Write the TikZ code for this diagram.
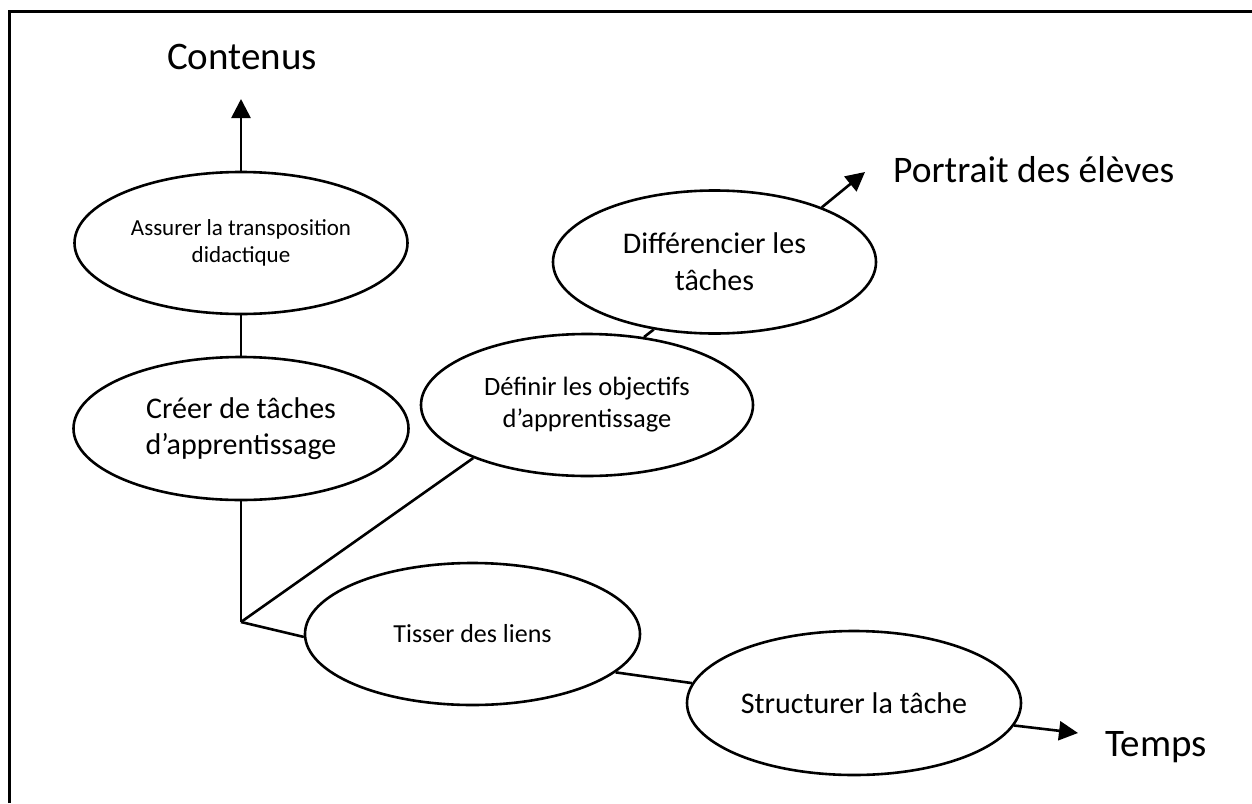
\documentclass[tikz,border=0pt]{standalone}
\usepackage{fontspec}
\setmainfont{Carlito}
\usetikzlibrary{arrows.meta,shapes.geometric}
\begin{document}
\begin{tikzpicture}[x=1pt,y=-1pt,
  bubble/.style={draw, line width=2.6pt, ellipse, inner sep=0pt, align=center},
  link/.style={line width=2.6pt},
  axis/.style={line width=2.6pt, -{Triangle[length=19pt,width=19pt]}},
  axislabel/.style={inner sep=0pt, font=\fontsize{39}{47}\selectfont},
]
\useasboundingbox (0,0) rectangle (1252,803);
% frame
\draw[line width=3pt] (9,803) -- (9,11) -- (1252,11);

% activities
\node[bubble, minimum width=333pt, minimum height=142pt,
      font=\fontsize{23}{27.5}\selectfont] (ass) at (241,243)
      {Assurer la transposition\\didactique};
\node[bubble, minimum width=335pt, minimum height=143pt,
      font=\fontsize{30}{36}\selectfont] (cre) at (241,428.5)
      {Créer de tâches\\d’apprentissage};
\node[bubble, minimum width=332pt, minimum height=142pt,
      font=\fontsize{26.5}{32}\selectfont] (def) at (587,405)
      {Définir les objectifs\\d’apprentissage};
\node[bubble, minimum width=323pt, minimum height=143pt,
      font=\fontsize{30}{37}\selectfont] (dif) at (714.5,262)
      {Différencier les\\tâches};
\node[bubble, minimum width=335pt, minimum height=142pt,
      font=\fontsize{26}{31}\selectfont] (tis) at (472.5,634)
      {Tisser des liens};
\node[bubble, minimum width=334pt, minimum height=144pt,
      font=\fontsize{30}{36}\selectfont] (str) at (854,703)
      {Structurer la tâche};

% axis labels
\node[axislabel, anchor=base] (cont) at (242,69) {Contenus};
\node[axislabel, anchor=base west, font=\fontsize{37.5}{45}\selectfont] (port) at (893,182) {Portrait des élèves};
\node[axislabel, anchor=base west] (temps) at (1105,756) {Temps};

% junction and arrow tips
\coordinate (o) at (241,622);
\coordinate (ctip) at (241,99);
\coordinate (ptip) at (865,172);
\coordinate (ttip) at (1078,733);

% connectors
\draw[link] (ass.south) -- (cre.north);
\draw[link] (cre.south) -- (o);
\draw[link] (o) -- (def.205);
\draw[link] (o) -- (tis.181);
\draw[link] (def.50) -- (dif.228);
\draw[link] (tis.-15) -- (str.173);

% axes
\draw[axis] (ass.north) -- (ctip);
\draw[axis] (dif.27) -- (ptip);
\draw[axis] (str.-8) -- (ttip);
\end{tikzpicture}
\end{document}
